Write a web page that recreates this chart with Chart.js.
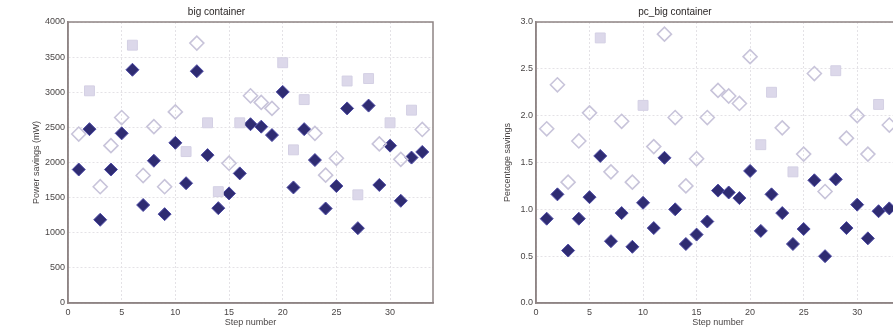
<!DOCTYPE html>
<html>
<head>
<meta charset="utf-8">
<script src="https://cdn.jsdelivr.net/npm/chart.js@4/dist/chart.umd.min.js"></script>
<style>
  html, body { margin: 0; padding: 0; background: #fff; overflow: hidden; }
  body { width: 893px; height: 329px; position: relative; }
  canvas { position: absolute; top: 0; }
  #powerChart { left: 0; }
  #pctChart { left: 450px; }
</style>
</head>
<body>
<canvas id="powerChart" width="450" height="329"></canvas>
<canvas id="pctChart" width="470" height="329"></canvas>
<script>
// step numbers 1..33
const steps = [1,2,3,4,5,6,7,8,9,10,11,12,13,14,15,16,17,18,19,20,21,22,23,24,25,26,27,28,29,30,31,32,33];

// big container: power savings (mW)
const powerSaved   = [1900,2475,1185,1900,2415,3320,1395,2025,1265,2280,1705,3300,2105,1350,1560,1845,2545,2510,2390,3005,1645,2475,2035,1345,1665,2770,1065,2810,1680,2240,1455,2070,2150];
const powerUpper   = [2405,null,1655,2240,2640,null,1815,2510,1655,2720,null,3700,null,null,1990,null,2950,2855,2770,null,null,null,2415,1820,2060,null,null,null,2265,null,2045,null,2470];
const powerUpperSq = [null,3020,null,null,null,3670,null,null,null,null,2155,null,2565,1585,null,2565,null,null,null,3420,2180,2895,null,null,null,3160,1540,3195,null,2565,null,2745,null];

// pc_big container: percentage savings
const pctSaved   = [0.90,1.16,0.56,0.90,1.13,1.57,0.66,0.96,0.60,1.07,0.80,1.55,1.00,0.63,0.73,0.87,1.20,1.18,1.12,1.41,0.77,1.16,0.96,0.63,0.79,1.31,0.50,1.32,0.80,1.05,0.69,0.98,1.01];
const pctUpper   = [1.86,2.33,1.29,1.73,2.03,null,1.40,1.94,1.29,null,1.67,2.87,1.98,1.25,1.54,1.98,2.27,2.21,2.13,2.63,null,null,1.87,null,1.59,2.45,1.19,null,1.76,2.00,1.59,null,1.90];
const pctUpperSq = [null,null,null,null,null,2.83,null,null,null,2.11,null,null,null,null,null,null,null,null,null,null,1.69,2.25,null,1.40,null,null,null,2.48,null,null,null,2.12,null];

const powerTicks = [0,500,1000,1500,2000,2500,3000,3500,4000];
const pctTicks   = [0,0.5,1.0,1.5,2.0,2.5,3.0];

const pts = vals => steps.map((s, i) => ({ x: s, y: vals[i] }));

const textColor = '#4a4646';
const axisColor = '#8e8484';
const gridColor = '#e4e2e6';

// box round the whole plot area
const framePlugin = {
  id: 'frame',
  afterDraw(chart) {
    const { ctx, chartArea: a } = chart;
    ctx.save();
    ctx.strokeStyle = axisColor;
    ctx.lineWidth = 1.5;
    ctx.strokeRect(a.left, a.top, a.right - a.left, a.bottom - a.top);
    ctx.restore();
  }
};

function makeChart(id, opts) {
  return new Chart(document.getElementById(id), {
    type: 'scatter',
    data: {
      datasets: [
        { label: 'upper', data: pts(opts.upperSq), pointStyle: 'rect', pointRadius: 7, backgroundColor: '#dcd8ea', borderColor: '#d4d0e4', borderWidth: 1 },
        { label: 'upper', data: pts(opts.upper), pointStyle: 'rectRot', pointRadius: 7, backgroundColor: 'rgba(255,255,255,0)', borderColor: '#c8c4da', borderWidth: 1.6 },
        { label: 'saved', data: pts(opts.saved), pointStyle: 'rectRot', pointRadius: 6.5, backgroundColor: '#2f2c72', borderColor: '#4d4aa4', borderWidth: 1 }
      ]
    },
    options: {
      responsive: false,
      animation: false,
      layout: { padding: { left: 0, right: opts.padRight, top: 0, bottom: 0 } },
      plugins: {
        legend: { display: false },
        tooltip: { enabled: false },
        title: { display: true, text: opts.title, color: '#2a2626', font: { family: 'Liberation Sans', size: 10, weight: 'normal' }, padding: { top: 6, bottom: 4 } }
      },
      scales: {
        x: {
          type: 'linear', min: 0, max: 34,
          grid: { color: gridColor, drawTicks: false },
          border: { color: axisColor, width: 1.5, dash: [2, 2] },
          ticks: { stepSize: 5, includeBounds: false, padding: 4, color: textColor, font: { family: 'Liberation Sans', size: 9 } },
          title: { display: true, text: 'Step number', color: textColor, font: { family: 'Liberation Sans', size: 9 }, padding: { top: 0, bottom: 1 } },
          afterFit: s => { s.height = 26; }
        },
        y: {
          type: 'linear', min: opts.ticks[0], max: opts.ticks[opts.ticks.length - 1],
          afterBuildTicks: s => { s.ticks = opts.ticks.map(v => ({ value: v })); },
          grid: { color: gridColor, drawTicks: false },
          border: { color: axisColor, width: 1.5, dash: [2, 2] },
          ticks: { padding: 3, color: textColor, font: { family: 'Liberation Sans', size: 9 }, callback: opts.fmt },
          title: { display: true, text: opts.yTitle, color: textColor, font: { family: 'Liberation Sans', size: 9 }, padding: { top: opts.yTitlePad, bottom: 0 } },
          afterFit: s => { s.width = opts.yWidth; }
        }
      }
    },
    plugins: [framePlugin]
  });
}

makeChart('powerChart', {
  title: 'big container', yTitle: 'Power savings (mW)',
  saved: powerSaved, upper: powerUpper, upperSq: powerUpperSq,
  ticks: powerTicks, fmt: v => String(v),
  yWidth: 68, yTitlePad: 31, padRight: 17
});

makeChart('pctChart', {
  title: 'pc_big container', yTitle: 'Percentage savings',
  saved: pctSaved, upper: pctUpper, upperSq: pctUpperSq,
  ticks: pctTicks, fmt: v => v.toFixed(1),
  yWidth: 86, yTitlePad: 52, padRight: 20
});
</script>
</body>
</html>
